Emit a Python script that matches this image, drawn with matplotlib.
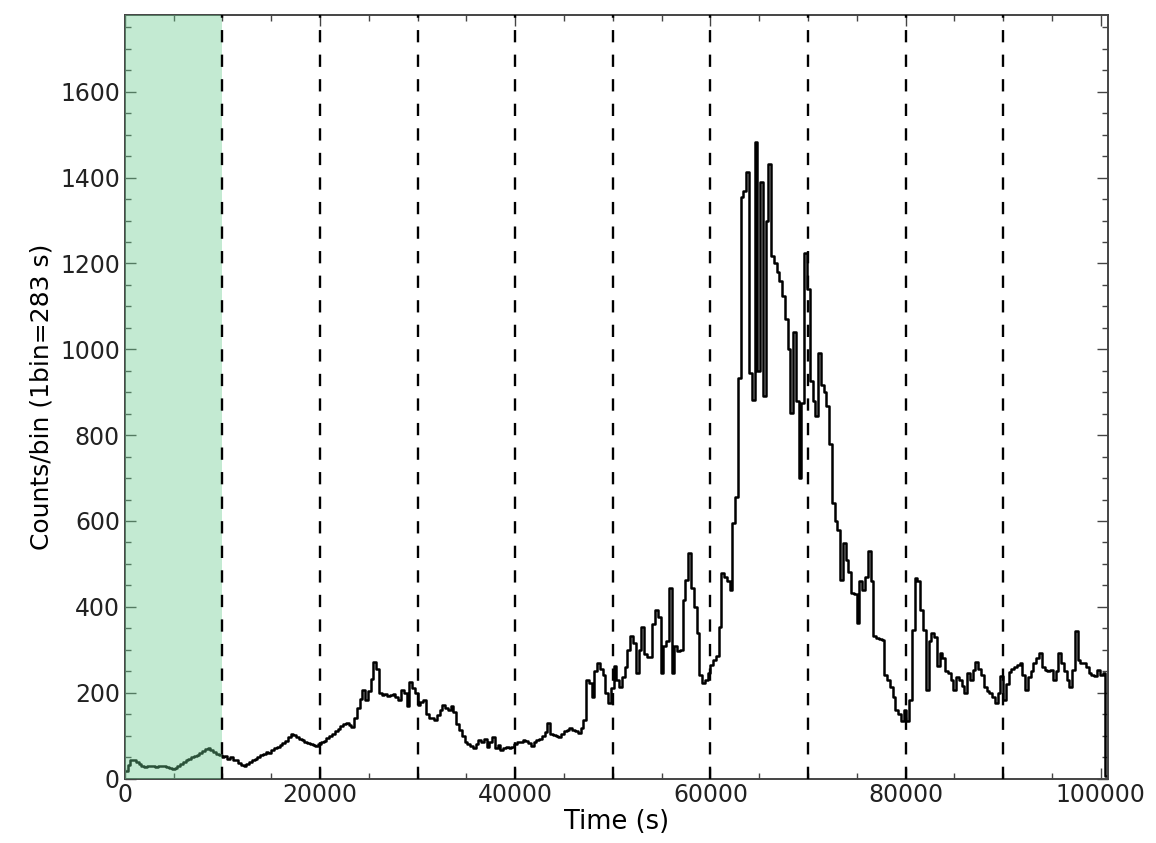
"""Light curve of the observation with the pre-flare interval shaded."""

import numpy as np
import matplotlib.pyplot as plt
from matplotlib.ticker import MultipleLocator

BIN_SIZE = 283  # seconds per bin

# counts per 283 s bin, split by phase of the light curve
counts_quiet = [
    18, 32, 44, 42, 38, 33, 28, 26, 28, 30,
    29, 27, 30, 28, 30, 27, 24, 22, 25, 30,
    34, 38, 42, 46, 50, 52, 55, 60, 64, 68,
    72, 66, 62, 58, 55, 50, 52, 46, 50, 44,
    42, 36, 32, 30, 34, 38, 42, 46, 50, 54,
    56, 62, 60, 66, 70, 74, 78, 82, 88, 96,
    104, 102, 96, 92, 90, 86, 82, 80, 78, 76,
    80, 84, 88, 94, 100, 104, 110, 116, 122, 128,
    130, 124, 120, 140, 165, 185, 206, 182, 205, 232,
    272, 255, 200, 195, 196, 193, 195, 198, 190, 182,
    206, 200, 170, 226, 212, 200, 172, 178, 182, 150,
    140, 142, 136, 148, 160, 172, 164, 160, 168, 156,
    128, 112, 100, 86, 80, 76, 70, 80, 90, 86,
    92, 74, 86, 97, 70, 78, 66, 70, 74, 72,
    74, 80, 86, 84, 90, 88, 82, 76, 84, 90,
    93, 100, 108, 129, 104, 101, 98, 96, 104, 110,
]
counts_rise = [
    113, 117, 112, 110, 105, 118, 137, 230, 222, 190,
    250, 269, 255, 240, 200, 175, 210, 261, 230, 213,
    237, 260, 300, 331, 315, 245, 300, 354, 290, 284,
    284, 360, 393, 377, 245, 308, 320, 444, 245, 308,
    296, 300, 416, 463, 525, 445, 400, 339, 240, 222,
    230, 245, 265, 275, 285, 354, 479, 470, 460, 440,
]
counts_flare = [
    596, 657, 934, 1354, 1369, 1412, 945, 883, 1482, 950,
    1389, 891, 1300, 1431, 1218, 1200, 1179, 1160, 1124, 1070,
    1000, 852, 1040, 880, 700, 875, 1225, 1140, 925, 880,
    844, 992, 917, 900, 867, 780, 642, 600, 580, 463,
]
counts_decay = [
    549, 510, 480, 432, 430, 362, 460, 440, 470, 529,
    460, 331, 328, 325, 323, 240, 230, 214, 190, 160,
    150, 133, 160, 135, 183, 346, 467, 460, 393, 346,
    206, 320, 339, 330, 261, 292, 280, 250, 245, 230,
    206, 237, 230, 215, 200, 245, 230, 253, 272, 255,
    240, 214, 205, 200, 191, 175, 200, 238, 183, 220,
    249, 255, 260, 265, 269, 240, 206, 237, 250, 270,
    280, 292, 260, 253, 250, 253, 230, 250, 292, 270,
    250, 230, 214, 253, 343, 276, 270, 269, 260, 245,
    240, 238, 253, 240, 245, 5,
]

shade_start, shade_end = 0, 10000
segment_marks = [10000, 20000, 30000, 40000, 50000, 60000, 70000, 80000, 90000]

counts = np.array(counts_quiet + counts_rise + counts_flare + counts_decay, dtype=float)
edges = np.arange(len(counts) + 1) * BIN_SIZE

plt.rcParams['font.family'] = 'DejaVu Sans'
plt.rcParams['font.size'] = 17

fig = plt.figure(figsize=(11.56, 8.43), dpi=100)
ax = fig.add_axes([0.108, 0.0765, 0.8505, 0.9055])

ax.plot(edges, np.append(counts, counts[-1]), drawstyle='steps-post',
        color='black', lw=1.8, zorder=2)
ax.axvspan(shade_start, shade_end, color=(0.42, 0.80, 0.56), alpha=0.4, lw=0, zorder=3)
for t in segment_marks:
    ax.axvline(t, color='black', lw=1.7, linestyle=(0, (5.2, 5.2)), zorder=4)

ax.set_xlim(0, edges[-1])
ax.set_ylim(0, 1.2 * counts.max())
ax.xaxis.set_major_locator(MultipleLocator(20000))
ax.xaxis.set_minor_locator(MultipleLocator(5000))
ax.yaxis.set_major_locator(MultipleLocator(200))
ax.yaxis.set_minor_locator(MultipleLocator(50))
ax.tick_params(which='both', direction='in', top=True, right=True, colors='#444444',
               labelcolor='#222222')
ax.tick_params(which='major', length=8, width=1)
ax.tick_params(which='minor', length=4, width=1)
for spine in ax.spines.values():
    spine.set_color('#444444')
    spine.set_linewidth(1.4)

ax.set_xlabel('Time (s)', fontsize=18.5, labelpad=1)
ax.set_ylabel('Counts/bin (1bin=283 s)', fontsize=18, labelpad=5)

fig.savefig('out.png', dpi=100)
